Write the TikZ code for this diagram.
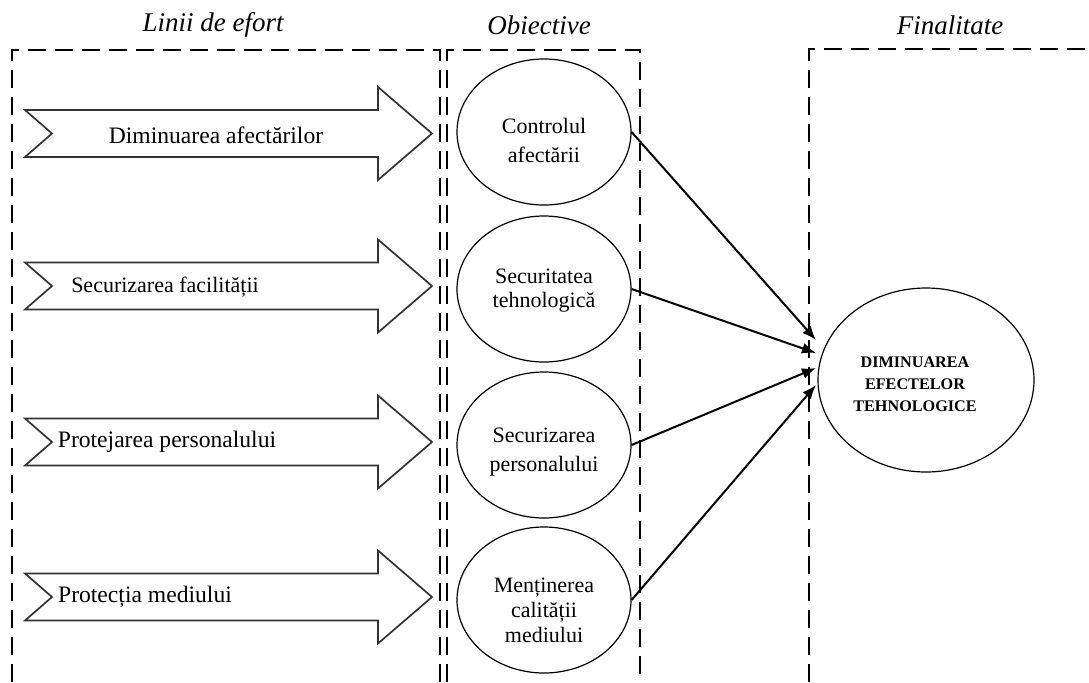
\documentclass[tikz,border=0pt]{standalone}
\usepackage{fontspec}
\setmainfont{Liberation Serif}
\usetikzlibrary{arrows.meta,shapes.geometric}
\begin{document}
\begin{tikzpicture}[x=0.5pt,y=-0.5pt,
  box/.style={line width=1.4pt, dash pattern=on 9pt off 4.5pt},
  blockar/.style={draw=black!80, line width=0.85pt, fill=white, line join=miter},
  obj/.style={ellipse, draw, line width=0.6pt, minimum width=87pt, minimum height=73pt, inner sep=0pt},
  fin/.style={ellipse, draw, line width=0.6pt, minimum width=108pt, minimum height=92pt, inner sep=0pt},
  titletext/.style={font=\fontsize{13.5}{16}\selectfont\itshape, inner sep=0pt},
  arrtext/.style={font=\fontsize{11.8}{14}\selectfont, inner sep=0pt},
  objtext/.style={align=center, inner sep=0pt},
  fintext/.style={align=center, inner sep=0pt, font=\fontsize{8.1}{11}\selectfont\bfseries},
  conn/.style={line width=1pt, -{Latex[length=7pt,width=5.5pt]}}
]
\useasboundingbox (0,0) rectangle (1089,682);
% dashed boxes
\draw[box] (12,682) -- (12,50) -- (440,50) -- (440,682);
\draw[box] (447,682) -- (447,50) -- (640,50) -- (640,682);
\draw[box] (809,682) -- (809,49) -- (1089,49);
% titles
\node[titletext] (tl) at (213,25) {Linii de efort};
\node[titletext] (to) at (539,25) {Obiective};
\node[titletext] (tf) at (950,25) {Finalitate};
% block arrows
\foreach \yy in {133.5,286,442,597}{
  \begin{scope}[shift={(0,\yy)}]
    \draw[blockar] (25,-23.5) -- (378,-23.5) -- (378,-46.5) -- (432,0) -- (378,46.5) -- (378,23.5) -- (25,23.5) -- (52,0) -- cycle;
  \end{scope}
}
\node[arrtext] (a1) at (216,135) {Diminuarea afectărilor};
\node[arrtext, font=\fontsize{11}{13}\selectfont] (a2) at (165,287) {Securizarea facilității};
\node[arrtext] (a3) at (167,442) {Protejarea personalului};
\node[arrtext] (a4) at (145,597) {Protecția mediului};
% objectives
\node[obj] (c1) at (544,132) {};
\node[obj] (c2) at (544,289) {};
\node[obj] (c3) at (544,445) {};
\node[obj] (c4) at (544,600) {};
\node[objtext, font=\fontsize{11}{14.5}\selectfont] (c1t) at (544,140) {Controlul\\afectării};
\node[objtext, font=\fontsize{11}{12}\selectfont] (c2t) at (544,291) {Securitatea\\tehnologică};
\node[objtext, font=\fontsize{11}{14.5}\selectfont] (c3t) at (544,452) {Securizarea\\personalului};
\node[objtext, font=\fontsize{11}{12.5}\selectfont] (c4t) at (544,610) {Menținerea\\calității\\mediului};
% final
\node[fin] (f) at (926,380) {};
\node[fintext] (ft) at (915,384) {DIMINUAREA\\EFECTELOR\\TEHNOLOGICE};
% connectors
\coordinate (e1) at (816,340);
\coordinate (e2) at (816,353);
\coordinate (e3) at (816,368);
\coordinate (e4) at (816,385);
\draw[conn] (c1.east) -- (e1);
\draw[conn] (c2.east) -- (e2);
\draw[conn] (c3.east) -- (e3);
\draw[conn] (c4.east) -- (e4);
\end{tikzpicture}
\end{document}
